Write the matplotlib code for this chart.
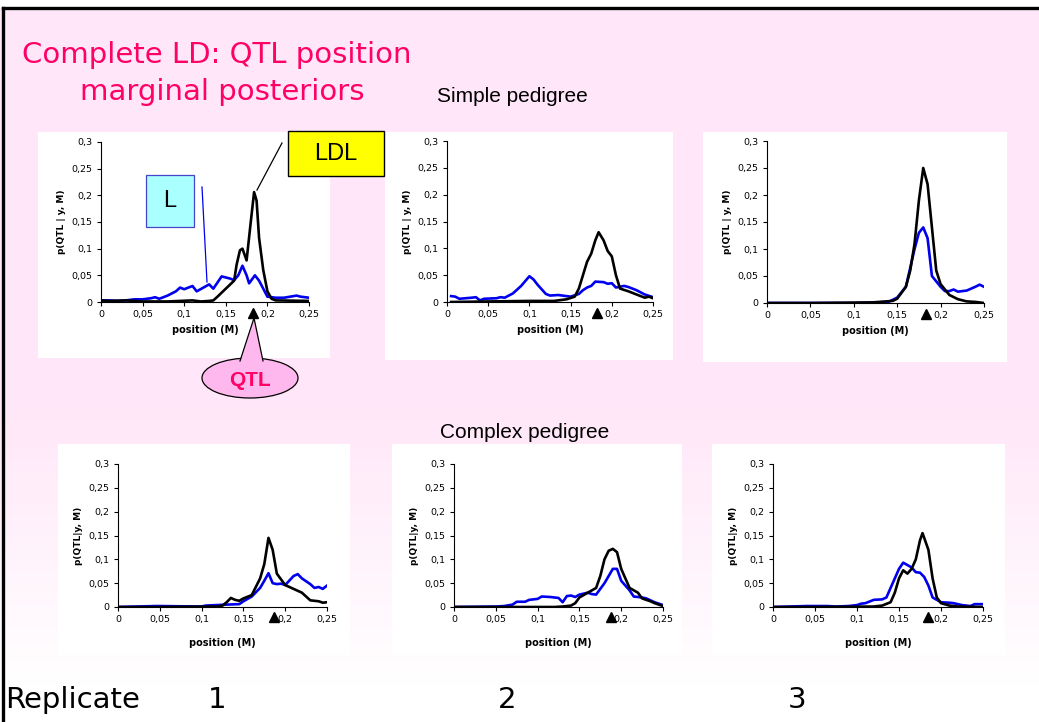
import numpy as np
import matplotlib
matplotlib.use("Agg")
import matplotlib.pyplot as plt
from matplotlib.patches import Rectangle, Ellipse, Polygon
from matplotlib.transforms import blended_transform_factory

W, H = 1039, 722

# ---- data: (position, posterior) per replicate ----
# Simple pedigree
s1_L_x = [0.0, 0.01, 0.02, 0.03, 0.04, 0.05, 0.06, 0.065, 0.07, 0.08, 0.09, 0.095, 0.1, 0.11, 0.115,
          0.13, 0.135, 0.145, 0.155, 0.16, 0.165, 0.17, 0.175, 0.178, 0.185, 0.19, 0.2, 0.21, 0.22,
          0.235, 0.24, 0.25]
s1_L_y = [0.003, 0.003, 0.002, 0.003, 0.005, 0.005, 0.007, 0.009, 0.006, 0.012, 0.02, 0.027, 0.024,
          0.03, 0.02, 0.033, 0.025, 0.048, 0.044, 0.041, 0.05, 0.068, 0.05, 0.035, 0.05, 0.04, 0.01,
          0.008, 0.008, 0.012, 0.01, 0.008]
s1_LDL_x = [0.0, 0.01, 0.03, 0.05, 0.08, 0.11, 0.12, 0.13, 0.135, 0.14, 0.15, 0.16, 0.163, 0.167,
            0.17, 0.175, 0.18, 0.184, 0.187, 0.19, 0.195, 0.2, 0.205, 0.21, 0.25]
s1_LDL_y = [0.003, 0.002, 0.003, 0.001, 0.001, 0.003, 0.001, 0.002, 0.003, 0.01, 0.025, 0.04, 0.07,
            0.097, 0.1, 0.078, 0.15, 0.206, 0.19, 0.12, 0.06, 0.02, 0.006, 0.003, 0.002]

s2_L_x = [0.005, 0.01, 0.015, 0.03, 0.035, 0.04, 0.045, 0.06, 0.065, 0.07, 0.08, 0.09, 0.1, 0.105,
          0.11, 0.12, 0.125, 0.135, 0.15, 0.16, 0.165, 0.17, 0.175, 0.18, 0.19, 0.195, 0.2, 0.205,
          0.215, 0.22, 0.23, 0.24, 0.25]
s2_L_y = [0.011, 0.01, 0.006, 0.008, 0.009, 0.003, 0.006, 0.007, 0.009, 0.008, 0.016, 0.03, 0.048,
          0.042, 0.032, 0.015, 0.012, 0.013, 0.01, 0.015, 0.022, 0.027, 0.03, 0.038, 0.037, 0.034,
          0.035, 0.027, 0.03, 0.028, 0.022, 0.014, 0.009]
s2_LDL_x = [0.005, 0.05, 0.1, 0.13, 0.145, 0.155, 0.16, 0.165, 0.17, 0.175, 0.18, 0.184, 0.19,
            0.195, 0.2, 0.205, 0.21, 0.22, 0.23, 0.24, 0.245, 0.25]
s2_LDL_y = [0.0, 0.001, 0.002, 0.002, 0.005, 0.01, 0.025, 0.05, 0.075, 0.09, 0.115, 0.13, 0.115,
            0.095, 0.085, 0.05, 0.025, 0.02, 0.014, 0.008, 0.01, 0.007]

s3_L_x = [0.0, 0.05, 0.1, 0.14, 0.15, 0.16, 0.17, 0.175, 0.18, 0.185, 0.19, 0.195, 0.2, 0.205,
          0.21, 0.215, 0.22, 0.23, 0.24, 0.245, 0.25]
s3_L_y = [0.0, 0.0, 0.0, 0.002, 0.01, 0.03, 0.1, 0.13, 0.14, 0.12, 0.05, 0.04, 0.03, 0.022, 0.022,
          0.025, 0.021, 0.023, 0.03, 0.034, 0.03]
s3_LDL_x = [0.0, 0.05, 0.12, 0.13, 0.145, 0.15, 0.16, 0.165, 0.17, 0.175, 0.18, 0.185, 0.19,
            0.195, 0.2, 0.21, 0.22, 0.23, 0.24, 0.25]
s3_LDL_y = [0.0, 0.0, 0.001, 0.002, 0.004, 0.008, 0.03, 0.06, 0.11, 0.19, 0.25, 0.22, 0.14, 0.06,
            0.035, 0.015, 0.007, 0.003, 0.002, 0.0]

# Complex pedigree
c1_L_x = [0.0, 0.045, 0.05, 0.1, 0.105, 0.13, 0.145, 0.15, 0.16, 0.17, 0.175, 0.18, 0.185, 0.19,
          0.195, 0.2, 0.21, 0.215, 0.22, 0.23, 0.235, 0.24, 0.245, 0.25]
c1_L_y = [0.0, 0.002, 0.002, 0.001, 0.003, 0.005, 0.006, 0.012, 0.022, 0.04, 0.055, 0.071, 0.05,
          0.048, 0.049, 0.046, 0.065, 0.069, 0.06, 0.048, 0.04, 0.042, 0.038, 0.045]
c1_LDL_x = [0.0, 0.05, 0.12, 0.125, 0.13, 0.135, 0.14, 0.145, 0.15, 0.16, 0.17, 0.175, 0.18, 0.185,
            0.19, 0.2, 0.21, 0.22, 0.23, 0.24, 0.245, 0.25]
c1_LDL_y = [0.0, 0.0, 0.001, 0.003, 0.01, 0.019, 0.015, 0.013, 0.018, 0.025, 0.06, 0.09, 0.145,
            0.12, 0.07, 0.046, 0.038, 0.03, 0.014, 0.012, 0.009, 0.01]

c2_L_x = [0.0, 0.05, 0.06, 0.07, 0.075, 0.085, 0.09, 0.1, 0.105, 0.115, 0.12, 0.125, 0.13, 0.135,
          0.14, 0.145, 0.15, 0.16, 0.165, 0.17, 0.18, 0.19, 0.195, 0.2, 0.21, 0.215, 0.225, 0.23,
          0.24, 0.25]
c2_L_y = [0.0, 0.001, 0.002, 0.005, 0.011, 0.011, 0.015, 0.017, 0.022, 0.021, 0.02, 0.019, 0.01,
          0.023, 0.024, 0.021, 0.026, 0.03, 0.027, 0.026, 0.05, 0.08, 0.08, 0.055, 0.035, 0.022,
          0.02, 0.018, 0.01, 0.004]
c2_LDL_x = [0.0, 0.05, 0.12, 0.13, 0.14, 0.145, 0.15, 0.16, 0.17, 0.175, 0.18, 0.185, 0.19, 0.195,
            0.2, 0.205, 0.21, 0.22, 0.225, 0.235, 0.24, 0.25]
c2_LDL_y = [0.0, 0.0, 0.0, 0.001, 0.003, 0.008, 0.02, 0.03, 0.04, 0.065, 0.1, 0.118, 0.122, 0.115,
            0.08, 0.06, 0.04, 0.03, 0.018, 0.012, 0.008, 0.002]

c3_L_x = [0.0, 0.04, 0.065, 0.075, 0.09, 0.1, 0.105, 0.11, 0.12, 0.13, 0.135, 0.14, 0.15, 0.155,
          0.16, 0.165, 0.17, 0.175, 0.18, 0.185, 0.19, 0.2, 0.21, 0.215, 0.225, 0.235, 0.24, 0.25]
c3_L_y = [0.0, 0.002, 0.002, 0.001, 0.002, 0.004, 0.007, 0.008, 0.015, 0.016, 0.02, 0.04, 0.08,
          0.093, 0.088, 0.083, 0.073, 0.072, 0.063, 0.045, 0.02, 0.01, 0.009, 0.008, 0.004, 0.002,
          0.006, 0.006]
c3_LDL_x = [0.0, 0.05, 0.12, 0.13, 0.14, 0.145, 0.15, 0.155, 0.16, 0.165, 0.17, 0.175, 0.178,
            0.185, 0.19, 0.195, 0.2, 0.21, 0.22, 0.25]
c3_LDL_y = [0.0, 0.0, 0.001, 0.003, 0.01, 0.03, 0.06, 0.077, 0.07, 0.08, 0.1, 0.14, 0.155, 0.12,
            0.06, 0.02, 0.008, 0.003, 0.001, 0.0]

qtl_pos = [0.183, 0.182, 0.183, 0.187, 0.188, 0.184]
ylabels = ["p(QTL | y, M)"] * 3 + ["p(QTL|y, M)"] * 3
tick_vals = [0, 0.05, 0.1, 0.15, 0.2, 0.25, 0.3]
tick_text = ["0", "0,05", "0,1", "0,15", "0,2", "0,25", "0,3"]

series = [(s1_L_x, s1_L_y, s1_LDL_x, s1_LDL_y), (s2_L_x, s2_L_y, s2_LDL_x, s2_LDL_y),
          (s3_L_x, s3_L_y, s3_LDL_x, s3_LDL_y), (c1_L_x, c1_L_y, c1_LDL_x, c1_LDL_y),
          (c2_L_x, c2_L_y, c2_LDL_x, c2_LDL_y), (c3_L_x, c3_L_y, c3_LDL_x, c3_LDL_y)]

# pixel boxes: axes (left, right, top, bottom) and white panels behind them
ax_boxes = [(101, 309, 142, 302), (447, 653, 141, 302), (767, 984, 141, 303),
            (118, 327, 464, 607), (454, 663, 464, 607), (773, 983, 464, 607)]
panel_boxes = [(38, 330, 132, 358), (385, 673, 132, 360), (703, 1007, 132, 362),
               (58, 350, 444, 655), (392, 682, 444, 655), (712, 1005, 444, 655)]

fig = plt.figure(figsize=(W / 100, H / 100), dpi=100)

# background: slide gradient, border, white panels
bg = fig.add_axes([0, 0, 1, 1], zorder=0)
bg.set_xlim(0, W)
bg.set_ylim(H, 0)
bg.axis("off")
pink = np.array([1.0, 0.902, 0.973])
t = np.linspace(0, 1, 200)
fade = np.clip((t - 0.55) / 0.4, 0, 1)[:, None]
grad = pink * (1 - fade) + np.ones(3) * fade
bg.imshow(grad[:, None, :].repeat(2, axis=1), extent=[0, W, H, 8], aspect="auto")
bg.add_patch(Rectangle((0, 0), W, 7, facecolor="white", edgecolor="none"))
bg.plot([3, W], [8, 8], color="black", lw=2.4)
bg.plot([3, 3], [8, H], color="black", lw=2.4)
for (l, r, tp, b) in panel_boxes:
    bg.add_patch(Rectangle((l, tp), r - l, b - tp, facecolor="white", edgecolor="none"))

title_col = "#FF0066"
bg.text(22, 55, "Complete LD: QTL position", color=title_col, fontsize=21, va="center")
bg.text(80, 92, "marginal posteriors", color=title_col, fontsize=21, va="center")
bg.text(437, 97, "Simple pedigree", fontsize=15, va="center", family="Liberation Sans")
bg.text(440, 432, "Complex pedigree", fontsize=15, va="center", family="Liberation Sans")
bg.text(5, 700, "Replicate", fontsize=21, va="center")
for xx, lab in zip([208, 498, 788], ["1", "2", "3"]):
    bg.text(xx, 700, lab, fontsize=21, va="center")

for i, ((l, r, tp, b), (lx, ly, dx, dy)) in enumerate(zip(ax_boxes, series)):
    ax = fig.add_axes([l / W, 1 - b / H, (r - l) / W, (b - tp) / H], zorder=1)
    ax.patch.set_alpha(0)
    ax.plot(lx, ly, color="#0000EE", lw=1.9, solid_joinstyle="round")
    ax.plot(dx, dy, color="black", lw=1.9, solid_joinstyle="round")
    ax.set_xlim(0, 0.25)
    ax.set_ylim(0, 0.3)
    ax.set_xticks(tick_vals[:-1])
    ax.set_xticklabels(tick_text[:-1])
    ax.set_yticks(tick_vals)
    ax.set_yticklabels(tick_text)
    ax.tick_params(labelsize=6.8, length=3, width=0.8, direction="out", pad=3)
    for s in ["top", "right"]:
        ax.spines[s].set_visible(False)
    for s in ["left", "bottom"]:
        ax.spines[s].set_linewidth(0.8)
    ax.set_ylabel(ylabels[i], fontsize=6.5, fontweight="bold", labelpad=4)
    if i < 3:
        ax.set_xlabel("position (M)", fontsize=7, fontweight="bold", labelpad=4)
    else:
        ax.set_xlabel("position (M)", fontsize=7, fontweight="bold", labelpad=10)
    tr = blended_transform_factory(ax.transData, ax.transAxes)
    ax.plot([qtl_pos[i]], [-0.07], marker="^", color="black", ms=7, transform=tr, clip_on=False)

# callouts on top
ov = fig.add_axes([0, 0, 1, 1], zorder=3)
ov.set_xlim(0, W)
ov.set_ylim(H, 0)
ov.axis("off")
ov.patch.set_alpha(0)

ov.plot([257, 282], [190, 143], color="black", lw=0.9)
ov.add_patch(Rectangle((288, 131), 96, 45, facecolor="#FFFF00", edgecolor="black", lw=1))
ov.text(336, 154, "LDL", fontsize=17, ha="center", va="center", family="Liberation Sans")

ov.plot([202, 207], [187, 282], color="#0000EE", lw=0.9)
ov.add_patch(Rectangle((146, 175), 48, 52, facecolor="#AAFFFF", edgecolor="#4444CC", lw=0.9))
ov.text(170, 201, "L", fontsize=17, ha="center", va="center", family="Liberation Sans")

bubble = "#FFB8EE"
ov.add_patch(Ellipse((250, 378), 96, 40, facecolor=bubble, edgecolor="black", lw=0.9))
ov.add_patch(Polygon([(240, 362), (254, 318), (263, 362)], closed=True, facecolor=bubble,
                     edgecolor="none"))
ov.plot([240, 254, 263], [361, 318, 361], color="black", lw=0.9)
ov.text(250, 380, "QTL", color=title_col, fontsize=15, fontweight="bold", ha="center",
        va="center", family="Liberation Sans")

fig.savefig("out.png", dpi=100)
